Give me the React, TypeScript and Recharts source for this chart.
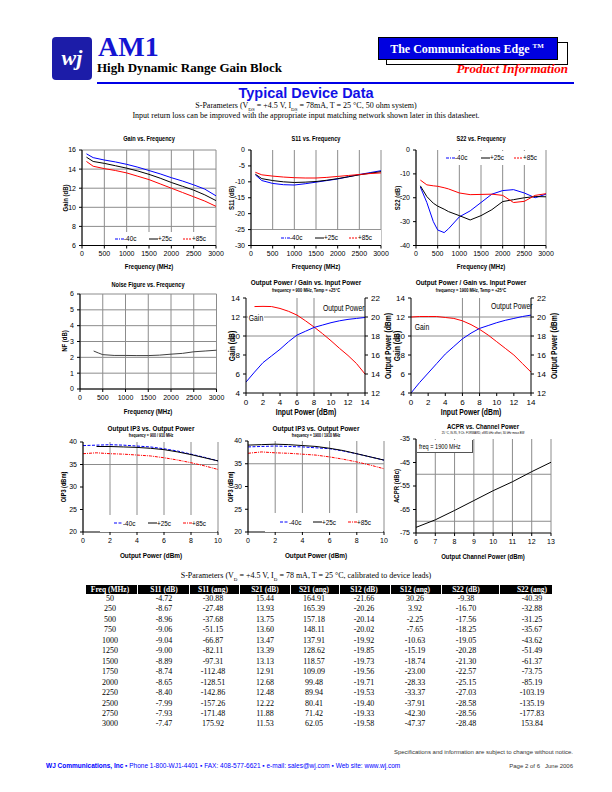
import React from 'react';
import { LineChart, Line, XAxis, YAxis, CartesianGrid, ReferenceLine } from 'recharts';

const SANS = "'Liberation Sans Narrow', 'Arial Narrow', 'Liberation Sans', Arial, sans-serif";
const ARIAL = "'Liberation Sans', Arial, sans-serif";
const SERIF = "'Liberation Serif', 'Times New Roman', serif";
const BLUE = '#0000ff';
const RED = '#ff0000';
const GRID = '#8c8c8c';

// ---- data ----
const tempLabels = ['-40c', '+25c', '+85c'];

const gainFreq = [100, 250, 500, 750, 1000, 1250, 1500, 1750, 2000, 2250, 2500, 2750, 3000];
const gainM40 = [15.6, 15.2, 14.95, 14.75, 14.5, 14.2, 13.85, 13.5, 13.1, 12.75, 12.35, 11.9, 11.2];
const gainP25 = [15.25, 14.8, 14.6, 14.35, 14.1, 13.8, 13.45, 13.05, 12.6, 12.2, 11.8, 11.3, 10.7];
const gainP85 = [14.8, 14.3, 14.05, 13.85, 13.6, 13.25, 12.9, 12.45, 12.0, 11.55, 11.1, 10.65, 10.1];

const s11Freq = [100, 250, 500, 750, 1000, 1250, 1500, 1750, 2000, 2250, 2500, 2750, 3000];
const s11M40 = [-7.8, -9.6, -10.5, -10.9, -11.0, -10.6, -10.1, -9.6, -9.1, -8.4, -7.7, -7.1, -6.5];
const s11P25 = [-7.6, -9.0, -9.6, -10.0, -10.2, -10.1, -9.9, -9.5, -9.0, -8.4, -7.8, -7.3, -6.8];
const s11P85 = [-7.0, -7.8, -8.2, -8.5, -8.7, -8.8, -8.8, -8.6, -8.3, -8.0, -7.7, -7.4, -7.2];

const s22Freq = [100, 250, 400, 500, 650, 750, 1000, 1250, 1500, 1750, 2000, 2250, 2500, 2750, 3000];
const s22M40 = [-15.5, -22.0, -30.0, -33.5, -34.6, -33.0, -28.0, -25.5, -22.0, -18.5, -17.0, -16.6, -18.0, -20.0, -18.5];
const s22P25 = [-15.0, -19.5, -22.3, -23.5, -24.8, -25.8, -27.5, -29.3, -27.5, -25.0, -21.6, -20.8, -20.0, -19.5, -19.6];
const s22P85 = [-12.6, -14.6, -15.0, -15.2, -15.8, -16.3, -18.0, -18.7, -18.6, -18.5, -19.0, -22.0, -21.5, -19.0, -18.3];

const nfFreq = [300, 400, 500, 750, 1000, 1250, 1500, 1750, 2000, 2250, 2500, 2750, 3000];
const nfVals = [2.4, 2.28, 2.17, 2.12, 2.12, 2.11, 2.11, 2.14, 2.2, 2.25, 2.35, 2.4, 2.45];

const pinVals = [0, 1, 2, 3, 4, 5, 6, 7, 8, 9, 10, 11, 12, 13, 14];
const gain900 = [null, 13.1, 13.12, 13.1, 12.9, 12.6, 12.2, 11.6, 10.95, 10.25, 9.5, 8.7, 7.95, 7.1, 6.0];
const pout900 = [13.15, 14.2, 15.2, 15.9, 16.6, 17.4, 18.1, 18.5, 18.9, 19.15, 19.4, 19.6, 19.75, 19.85, 19.95];
const gain1900 = [12.0, 12.05, 12.05, 12.05, 11.95, 11.85, 11.6, 11.2, 10.7, 10.1, 9.4, 8.7, 8.0, 7.1, 6.2];
const pout1900 = [12.0, 13.1, 14.1, 15.1, 16.1, 16.9, 17.7, 18.3, 18.8, 19.1, 19.4, 19.65, 19.85, 20.05, 20.2];

const poutVals = [0, 1, 2, 3, 4, 5, 6, 7, 8, 9, 10];
const ip900M40 = [39.2, 39.3, 39.4, 39.3, 39.1, 38.9, 38.5, 38.0, 37.3, 36.6, 35.8];
const ip900P25 = [null, 39.0, 39.0, 38.9, 38.8, 38.6, 38.3, 37.8, 37.2, 36.5, 35.8];
const ip900P85 = [37.4, 37.6, 37.4, 37.3, 37.1, 36.9, 36.5, 36.0, 35.4, 34.7, 33.9];
const ip1900M40 = [38.7, 38.8, 38.9, 38.8, 38.7, 38.5, 38.3, 37.8, 37.2, 36.5, 35.8];
const ip1900P25 = [39.1, 39.2, 39.3, 39.2, 39.0, 38.8, 38.4, 37.9, 37.2, 36.5, 35.8];
const ip1900P85 = [37.3, 37.6, 37.4, 37.3, 37.1, 36.9, 36.5, 36.0, 35.4, 34.7, 33.9];

const chPower = [6, 7, 8, 9, 10, 11, 12, 13];
const acpr = [-72.6, -69.4, -65.4, -61.2, -57.0, -53.2, -48.9, -44.9];

const tblFreq = [50, 250, 500, 750, 1000, 1250, 1500, 1750, 2000, 2250, 2500, 2750, 3000];
const tblS11dB = ['-4.72', '-8.67', '-8.96', '-9.06', '-9.04', '-9.00', '-8.89', '-8.74', '-8.65', '-8.40', '-7.99', '-7.93', '-7.47'];
const tblS11ang = ['-30.88', '-27.48', '-37.68', '-51.15', '-66.87', '-82.11', '-97.31', '-112.48', '-128.51', '-142.86', '-157.26', '-171.48', '175.92'];
const tblS21dB = ['15.44', '13.93', '13.75', '13.60', '13.47', '13.39', '13.13', '12.91', '12.68', '12.48', '12.22', '11.88', '11.53'];
const tblS21ang = ['164.91', '165.39', '157.18', '148.11', '137.91', '128.62', '118.57', '109.09', '99.48', '89.94', '80.41', '71.42', '62.05'];
const tblS12dB = ['-21.66', '-20.26', '-20.14', '-20.02', '-19.92', '-19.85', '-19.73', '-19.56', '-19.71', '-19.53', '-19.40', '-19.33', '-19.58'];
const tblS12ang = ['30.26', '3.92', '-2.25', '-7.65', '-10.63', '-15.19', '-18.74', '-23.00', '-28.33', '-33.37', '-37.91', '-42.30', '-47.37'];
const tblS22dB = ['-9.38', '-16.70', '-17.56', '-18.25', '-19.05', '-20.28', '-21.30', '-22.57', '-25.15', '-27.03', '-28.58', '-28.56', '-28.48'];
const tblS22ang = ['-40.39', '-32.88', '-31.25', '-35.67', '-43.62', '-51.49', '-61.37', '-73.75', '-85.19', '-103.19', '-135.19', '-177.83', '153.84'];
const tblHead = ['Freq (MHz)', 'S11 (dB)', 'S11 (ang)', 'S21 (dB)', 'S21 (ang)', 'S12 (dB)', 'S12 (ang)', 'S22 (dB)', 'S22 (ang)'];

const pts = (xs: number[], ys: (number | null)[]) => xs.map((x, i) => ({ x, y: ys[i] }));

// ---- helpers ----
type Box = { x: number; y: number; w: number; h: number };
const PAD = 6;
const RP = 14;

function Plot({ box, lw, rw = 0, bh, children }: { box: Box; lw: number; rw?: number; bh: number; children: React.ReactNode }) {
  return (
    <div style={{ position: 'absolute', left: box.x - lw, top: box.y - PAD }}>
      <LineChart
        width={lw + box.w + rw + RP}
        height={PAD + box.h + bh}
        margin={{ top: PAD, right: RP, bottom: 0, left: 0 }}
      >
        {children}
      </LineChart>
    </div>
  );
}

function T({ x, y, size = 7, bold = false, rot = 0, align = 'center', color = '#000', font = SANS, italic = false, sx = 1, children }: any) {
  const tx = align === 'center' ? '-50%' : align === 'right' ? '-100%' : '0';
  const origin = align === 'center' ? 'center' : align === 'right' ? 'right center' : 'left center';
  return (
    <div
      style={{
        position: 'absolute', left: x, top: y, whiteSpace: 'nowrap', lineHeight: 1,
        transformOrigin: origin,
        transform: `translate(${tx}, -50%)${rot ? ` rotate(${rot}deg)` : ''}${sx !== 1 ? ` scaleX(${sx})` : ''}`,
        fontSize: size, fontWeight: bold ? 700 : 400, fontStyle: italic ? 'italic' : 'normal', fontFamily: font, color,
      }}
    >
      {children}
    </div>
  );
}

// condensed chart text, like the narrow face of the original
const N = 0.8;

const legendStyles = [
  { color: BLUE, dash: '3 1 1 1' },
  { color: '#000', dash: undefined },
  { color: RED, dash: '2 1' },
];

function TempLegend({ x, y, w, h, at, styles = legendStyles }: { x: number; y: number; w: number; h: number; at: number[]; styles?: any[] }) {
  return (
    <div style={{ position: 'absolute', left: x, top: y, width: w, height: h, background: '#fff' }}>
      {tempLabels.map((lab, i) => (
        <div key={lab} style={{ position: 'absolute', left: at[i] - x, top: h / 2 - 4.5, height: 9, display: 'flex', alignItems: 'center', fontFamily: SANS, fontSize: 7.5 }}>
          <svg width={9} height={4}><line x1={0} y1={2} x2={9} y2={2} stroke={styles[i].color} strokeWidth={1} strokeDasharray={styles[i].dash} /></svg>
          <span style={{ display: 'inline-block', transform: 'scaleX(0.85)', transformOrigin: 'left center' }}>{lab}</span>
        </div>
      ))}
    </div>
  );
}

const tick7 = { fontSize: 7, fill: '#000', fontFamily: SANS };
const tick8 = { fontSize: 8, fill: '#000', fontFamily: SANS };
const axisCommon = { tickSize: 3, tickMargin: 3, interval: 0 as const, axisLine: { stroke: '#000' }, tickLine: { stroke: '#000' } };
const freqTicks = [0, 500, 1000, 1500, 2000, 2500, 3000];

const series = (key: string, data: any[], color: string, yAxisId?: string, dash?: string) => (
  <Line
    key={key}
    data={data}
    dataKey="y"
    type="linear"
    stroke={color}
    strokeWidth={1}
    strokeDasharray={dash}
    dot={false}
    connectNulls
    yAxisId={yAxisId}
    isAnimationActive={false}
  />
);

// ---- charts ----
function GainChart() {
  return (
    <>
      <Plot box={{ x: 82, y: 150, w: 134, h: 95.5 }} lw={22} bh={16}>
        <CartesianGrid stroke={GRID} />
        <XAxis type="number" dataKey="x" domain={[0, 3000]} ticks={freqTicks} tick={tick7} height={16} {...axisCommon} />
        <YAxis type="number" domain={[6, 16]} ticks={[6, 8, 10, 12, 14, 16]} tick={tick7} width={22} {...axisCommon} />
        {series('m40', pts(gainFreq, gainM40), BLUE)}
        {series('p25', pts(gainFreq, gainP25), '#000')}
        {series('p85', pts(gainFreq, gainP85), RED)}
      </Plot>
      <TempLegend x={112} y={232} w={103} h={13} at={[115, 149, 183]} />
      <T x={149} y={138} size={7} bold sx={N}>Gain vs. Frequency</T>
      <T x={149} y={267} size={7.5} bold sx={N}>Frequency (MHz)</T>
      <T x={66} y={198} size={7.5} bold rot={-90} sx={N}>Gain (dB)</T>
    </>
  );
}

function S11Chart() {
  return (
    <>
      <Plot box={{ x: 251, y: 150, w: 130, h: 95.5 }} lw={22} bh={16}>
        <CartesianGrid stroke={GRID} horizontal={false} />
        <XAxis type="number" dataKey="x" domain={[0, 3000]} ticks={freqTicks} tick={tick7} height={16} {...axisCommon} />
        <YAxis type="number" domain={[-30, 0]} ticks={[-30, -25, -20, -15, -10, -5, 0]} tick={tick7} width={22} {...axisCommon} />
        <ReferenceLine y={-25} stroke={GRID} />
        {series('m40', pts(s11Freq, s11M40), BLUE)}
        {series('p25', pts(s11Freq, s11P25), '#000')}
        {series('p85', pts(s11Freq, s11P85), RED)}
      </Plot>
      <TempLegend x={251.5} y={230.3} w={129} h={14.5} at={[281, 315, 349]} />
      <T x={316} y={138} size={7} bold sx={N}>S11 vs. Frequency</T>
      <T x={316} y={267} size={7.5} bold sx={N}>Frequency (MHz)</T>
      <T x={231.5} y={198} size={7.5} bold rot={-90} sx={N}>S11 (dB)</T>
    </>
  );
}

function S22Chart() {
  return (
    <>
      <Plot box={{ x: 416, y: 150, w: 130, h: 95.5 }} lw={22} bh={16}>
        <CartesianGrid stroke={GRID} horizontal={false} />
        <XAxis type="number" dataKey="x" domain={[0, 3000]} ticks={freqTicks} tick={tick7} height={16} {...axisCommon} />
        <YAxis type="number" domain={[-40, 0]} ticks={[-40, -30, -20, -10, 0]} tick={tick7} width={22} {...axisCommon} />
        {series('m40', pts(s22Freq, s22M40), BLUE)}
        {series('p25', pts(s22Freq, s22P25), '#000')}
        {series('p85', pts(s22Freq, s22P85), RED)}
      </Plot>
      <TempLegend x={442} y={150.5} w={103} h={14} at={[446, 481, 514]} />
      <T x={481} y={138} size={7} bold sx={N}>S22 vs. Frequency</T>
      <T x={481} y={267} size={7.5} bold sx={N}>Frequency (MHz)</T>
      <T x={397.5} y={198} size={7.5} bold rot={-90} sx={N}>S22 (dB)</T>
    </>
  );
}

function NFChart() {
  return (
    <>
      <Plot box={{ x: 79.5, y: 294, w: 136.5, h: 95 }} lw={22} bh={16}>
        <CartesianGrid stroke={GRID} />
        <XAxis type="number" dataKey="x" domain={[0, 3000]} ticks={freqTicks} tick={tick7} height={16} {...axisCommon} />
        <YAxis type="number" domain={[0, 6]} ticks={[0, 1, 2, 3, 4, 5, 6]} tick={tick7} width={22} {...axisCommon} />
        {series('nf', pts(nfFreq, nfVals), '#404040')}
      </Plot>
      <T x={148} y={284} size={7} bold sx={N}>Noise Figure vs. Frequency</T>
      <T x={148} y={411.5} size={7.5} bold sx={N}>Frequency (MHz)</T>
      <T x={65} y={341} size={7.5} bold rot={-90} sx={N}>NF (dB)</T>
    </>
  );
}

function OutPowerChart({ box, gain, pout, sub, labels }: { box: Box; gain: (number | null)[]; pout: number[]; sub: string; labels: any }) {
  const cx = box.x + box.w / 2;
  return (
    <>
      <Plot box={box} lw={16} rw={16} bh={16}>
        <XAxis type="number" dataKey="x" domain={[0, 14]} ticks={[0, 2, 4, 6, 8, 10, 12, 14]} tick={tick8} height={16} {...axisCommon} />
        <YAxis yAxisId="g" type="number" domain={[4, 14]} ticks={[4, 6, 8, 10, 12, 14]} tick={tick8} width={16} {...axisCommon} />
        <YAxis yAxisId="p" orientation="right" type="number" domain={[12, 22]} ticks={[12, 14, 16, 18, 20, 22]} tick={tick8} width={16} {...axisCommon} />
        <ReferenceLine yAxisId="g" y={12} stroke={GRID} />
        <ReferenceLine yAxisId="g" y={10} stroke={GRID} />
        <ReferenceLine yAxisId="g" x={6} stroke={GRID} />
        <ReferenceLine yAxisId="g" x={8} stroke={GRID} />
        {series('gain', pts(pinVals, gain), RED, 'g')}
        {series('pout', pts(pinVals, pout), BLUE, 'p')}
      </Plot>
      <T x={labels.gx} y={labels.gy} size={8.5} align="left" sx={N}><span style={{ background: '#fff', padding: '0 1px' }}>Gain</span></T>
      <T x={labels.ox} y={labels.oy} size={8.5} align="left" sx={N}>Output Power</T>
      <T x={cx} y={282.5} size={8} bold sx={N}>Output Power / Gain vs. Input Power</T>
      <T x={cx} y={290} size={5} bold sx={N}>{sub}</T>
      <T x={cx} y={411.5} size={8.5} bold sx={N}>Input Power (dBm)</T>
      <T x={box.x - 14.5} y={box.y + box.h / 2} size={8.5} bold rot={-90} sx={N}>Gain (dB)</T>
      <T x={box.x + box.w + 23} y={box.y + box.h / 2} size={8.5} bold rot={-90} sx={N}>Output Power (dBm)</T>
    </>
  );
}

function IP3Chart({ box, m40, p25, p85, sub, legendBox, at, ylx }: any) {
  const cx = box.x + box.w / 2;
  const styles = [
    { color: BLUE, dash: '3 1.5' },
    { color: '#000', dash: undefined },
    { color: RED, dash: '3 1 1 1' },
  ];
  return (
    <>
      <Plot box={box} lw={20} bh={16}>
        <CartesianGrid stroke={GRID} horizontal={false} />
        <XAxis type="number" dataKey="x" domain={[0, 10]} ticks={[0, 2, 4, 6, 8, 10]} tick={tick7} height={16} {...axisCommon} />
        <YAxis type="number" domain={[20, 40]} ticks={[20, 25, 30, 35, 40]} tick={tick7} width={20} {...axisCommon} />
        <ReferenceLine y={35} stroke={GRID} />
        {series('m40', pts(poutVals, m40), BLUE, undefined, '3 1.5')}
        {series('p25', pts(poutVals, p25), '#000')}
        {series('p85', pts(poutVals, p85), RED, undefined, '3 1 1 1')}
      </Plot>
      <TempLegend {...legendBox} at={at} styles={styles} />
      <T x={cx} y={429} size={8} bold sx={N}>Output IP3 vs. Output Power</T>
      <T x={cx} y={435.5} size={4.5} bold sx={N}>{sub}</T>
      <T x={cx} y={556} size={8} bold sx={N}>Output Power (dBm)</T>
      <T x={ylx} y={box.y + box.h / 2} size={7} bold rot={-90} sx={N}>OIP3 (dBm)</T>
    </>
  );
}

function ACPRChart() {
  return (
    <>
      <Plot box={{ x: 416, y: 439, w: 135, h: 94 }} lw={20} bh={16}>
        <CartesianGrid stroke={GRID} horizontal={false} />
        <XAxis type="number" dataKey="x" domain={[6, 13]} ticks={chPower} tick={tick7} height={16} {...axisCommon} />
        <YAxis type="number" domain={[-75, -35]} ticks={[-75, -65, -55, -45, -35]} tick={tick7} width={20} {...axisCommon} />
        <ReferenceLine y={-50} stroke={GRID} />
        <ReferenceLine y={-70} stroke={GRID} />
        {series('acpr', pts(chPower, acpr), '#000')}
      </Plot>
      <div style={{ position: 'absolute', left: 416.5, top: 439.5, width: 55, height: 12, background: '#fff', borderRight: '1px solid #555', borderBottom: '1px solid #555' }} />
      <T x={419} y={446} size={7} align="left" sx={N}>freq = 1900 MHz</T>
      <T x={483} y={426.5} size={7.5} bold sx={N}>ACPR vs. Channel Power</T>
      <T x={483} y={434} size={3.5} sx={N}>25 °C, IS-95, 9 Ch. FORWARD, ±885 kHz offset, 30 kHz meas BW</T>
      <T x={483} y={556.5} size={7.5} bold sx={N}>Output Channel Power (dBm)</T>
      <T x={397} y={486} size={7.5} bold rot={-90} sx={N}>ACPR (dBc)</T>
    </>
  );
}

// ---- page furniture ----
function Header() {
  return (
    <>
      <div style={{ position: 'absolute', left: 52, top: 37, width: 40, height: 43, background: '#1c1ca8', borderRadius: 4 }} />
      <T x={72} y={58} size={22} bold italic color="#fff" font={SERIF}>wj</T>
      <T x={98} y={47} size={28} bold color="#1414d2" font={SERIF} align="left">AM1</T>
      <T x={97} y={67} size={13} bold font={SERIF} align="left">High Dynamic Range Gain Block</T>
      <div style={{ position: 'absolute', left: 97, top: 82, width: 477, height: 2, background: '#0000e6' }} />
      <div style={{ position: 'absolute', left: 386, top: 42, width: 180, height: 21, border: '1px solid #000', background: '#fff' }} />
      <div style={{ position: 'absolute', left: 378, top: 37, width: 178, height: 21, background: '#0000e0', border: '1px solid #000' }} />
      <T x={467} y={48.5} size={12} bold color="#fff" font={SERIF}>
        The Communications Edge <sup style={{ fontSize: 7 }}>TM</sup>
      </T>
      <T x={568} y={67.5} size={13} bold italic color="#ff0000" font={SERIF} align="right">Product Information</T>
      <T x={306} y={93} size={14.5} bold color="#1010e6" font={ARIAL}>Typical Device Data</T>
      <T x={306} y={107} size={8} font={SERIF}>
        S-Parameters (V<sub style={{ fontSize: 5 }}>DS</sub> = +4.5 V, I<sub style={{ fontSize: 5 }}>DS</sub> = 78mA, T = 25 °C, 50 ohm system)
      </T>
      <T x={306} y={116} size={8} font={SERIF}>
        Input return loss can be improved with the appropriate input matching network shown later in this datasheet.
      </T>
    </>
  );
}

const colCenters = [110, 164, 213, 265, 314, 364, 415, 466, 532];

function SParamTable() {
  const cols = [tblFreq.map(String), tblS11dB, tblS11ang, tblS21dB, tblS21ang, tblS12dB, tblS12ang, tblS22dB, tblS22ang];
  return (
    <>
      <T x={306} y={577} size={8} font={SERIF}>
        S-Parameters (V<sub style={{ fontSize: 5 }}>D</sub> = +4.5 V, I<sub style={{ fontSize: 5 }}>D</sub> = 78 mA, T = 25 °C, calibrated to device leads)
      </T>
      <div style={{ position: 'absolute', left: 86, top: 585, width: 466, height: 8.5, background: '#000' }} />
      {colCenters.slice(1).map((c, i) => (
        <div key={i} style={{ position: 'absolute', left: (c + colCenters[i]) / 2, top: 585, width: 1, height: 8.5, background: '#fff' }} />
      ))}
      {tblHead.map((h, i) => (
        <T key={h} x={colCenters[i]} y={589.5} size={7.5} bold color="#fff" font={SERIF}>{h}</T>
      ))}
      {tblFreq.map((_, r) =>
        cols.map((col, c) => (
          <T key={`${r}-${c}`} x={colCenters[c]} y={599 + r * 10.45} size={8} font={SERIF}>{col[r]}</T>
        ))
      )}
    </>
  );
}

function Footer() {
  const blue = '#0000ff';
  return (
    <>
      <T x={573} y={752} size={6} align="right" color="#333" font={ARIAL}>
        Specifications and information are subject to change without notice.
      </T>
      <T x={46} y={766} size={6.5} align="left" color={blue} font={ARIAL}>
        <b>WJ Communications, Inc</b> ▪ Phone 1-800-WJ1-4401 ▪ FAX: 408-577-6621 ▪ e-mail: sales@wj.com ▪ Web site: www.wj.com
      </T>
      <T x={573} y={766} size={6} align="right" color="#333" font={ARIAL}>
        Page 2 of 6&nbsp;&nbsp;&nbsp;June 2006
      </T>
    </>
  );
}

export default function App() {
  return (
    <div style={{ position: 'absolute', left: 0, top: 0, width: 612, height: 792, background: '#fff', overflow: 'hidden' }}>
      <Header />
      <GainChart />
      <S11Chart />
      <S22Chart />
      <NFChart />
      <OutPowerChart
        box={{ x: 246, y: 298, w: 119, h: 95 }}
        gain={gain900}
        pout={pout900}
        sub="frequency = 900 MHz, Temp = +25°C"
        labels={{ gx: 247.5, gy: 317.5, ox: 323, oy: 307.5 }}
      />
      <OutPowerChart
        box={{ x: 411, y: 298, w: 120, h: 95 }}
        gain={gain1900}
        pout={pout1900}
        sub="frequency = 1900 MHz, Temp = +25°C"
        labels={{ gx: 414, gy: 327, ox: 491, oy: 306 }}
      />
      <IP3Chart
        box={{ x: 83, y: 442, w: 135, h: 90 }}
        m40={ip900M40} p25={ip900P25} p85={ip900P85}
        sub="frequency = 900 / 910 MHz"
        legendBox={{ x: 100, y: 515, w: 117, h: 16.5 }}
        at={[114, 148, 183]}
        ylx={63}
      />
      <IP3Chart
        box={{ x: 248, y: 441, w: 136, h: 91 }}
        m40={ip1900M40} p25={ip1900P25} p85={ip1900P85}
        sub="frequency = 1900 / 1910 MHz"
        legendBox={{ x: 265, y: 513, w: 118, h: 18.5 }}
        at={[280, 313, 348]}
        ylx={229.5}
      />
      <ACPRChart />
      <SParamTable />
      <Footer />
    </div>
  );
}
